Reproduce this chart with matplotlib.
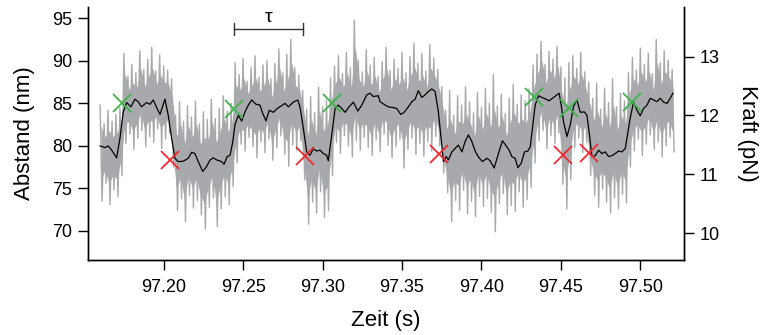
import numpy as np
import matplotlib
matplotlib.use("Agg")
import matplotlib.pyplot as plt

plt.rcParams['font.family'] = ['Liberation Sans', 'DejaVu Sans']

# Rohdaten: obere / untere Huellkurve je Abtastfenster (2.5 ms)
raw_t = np.linspace(97.160, 97.520, 145)
raw_hi = [84.8, 82.6, 84.2, 82.9, 83.7, 84.5,
          90.9, 88.2, 89.6, 88.6, 91.2, 89.0, 90.2, 91.6, 88.8, 90.7, 89.4, 88.9,
          87.9,
          83.6, 85.2, 82.9, 84.7, 83.4, 85.3, 82.6, 84.0, 83.1, 85.5, 83.2, 84.4, 85.9, 84.1, 85.0,
          89.8,
          88.4, 90.3, 87.6, 89.2, 90.6, 88.1, 89.5, 90.0, 87.9, 89.7, 91.4, 88.6, 90.8, 92.5, 89.2, 88.3,
          86.5,
          84.3, 85.8, 83.9, 86.9, 84.6, 85.4,
          88.0,
          89.4, 90.6, 88.5, 91.0, 89.2, 94.8, 90.1, 88.7, 91.3, 89.5, 90.4, 88.2, 89.9, 91.6,
          88.9, 90.2, 89.1, 91.0, 88.6, 90.5, 92.1, 89.7, 90.9, 88.8, 91.9, 90.3, 89.0,
          87.0,
          84.2, 86.5, 83.6, 85.9, 84.8, 87.0, 85.2, 83.9, 86.3, 84.5, 86.8, 85.0, 88.4, 84.7,
          86.1, 83.8, 85.6, 87.2, 84.9, 86.0, 85.3, 86.7,
          89.5,
          90.8, 92.3, 89.6, 91.1, 90.2, 91.7,
          89.3, 88.0, 89.8,
          90.6, 89.1, 91.0, 88.7,
          87.5,
          85.6, 87.4, 84.3, 86.8, 85.1, 87.9, 84.6, 86.2, 85.3,
          88.6,
          90.4, 88.9, 91.5, 89.6, 90.9, 88.5, 92.5, 89.8, 91.2, 90.1, 89.0]
raw_lo = [73.5, 75.6, 73.1, 74.8, 74.0, 76.5,
          80.3, 81.4, 79.6, 80.9, 81.8, 79.9, 81.1, 80.4, 82.0, 79.7, 80.8, 81.5,
          77.5,
          72.4, 73.8, 71.1, 74.2, 72.7, 73.6, 71.9, 70.2, 72.8, 73.9, 70.5, 72.6, 74.0, 73.1, 75.2,
          78.0,
          80.2, 79.4, 81.0, 79.9, 78.6, 80.5, 79.2, 80.8, 78.3, 79.8, 81.2, 79.0, 77.6, 80.1, 79.5, 80.6,
          76.0,
          70.8, 73.4, 72.1, 74.6, 71.6, 72.4,
          76.5,
          80.4, 79.1, 81.2, 80.0, 78.7, 80.6, 79.5, 81.0, 79.8, 78.9, 80.7, 79.3, 81.4, 80.1,
          78.6, 79.9, 80.8, 77.4, 79.6, 80.9, 79.0, 80.3, 78.8, 80.5, 79.4, 81.1, 80.0,
          76.8,
          74.5, 71.1, 73.6, 72.4, 74.8, 72.0, 73.5, 71.7, 74.1, 72.9, 73.8, 72.2, 69.9, 73.2,
          74.4, 71.9, 73.0, 72.3, 74.6, 72.8, 73.7, 75.1,
          78.0,
          80.6, 81.8, 79.7, 81.2, 80.3, 81.5,
          75.5, 72.6, 76.0,
          79.8, 80.9, 79.2, 80.4,
          76.5,
          74.2, 72.8, 74.9, 73.4, 72.1, 73.9, 72.6, 74.3, 73.3,
          77.5,
          79.4, 80.8, 78.9, 80.2, 81.3, 79.6, 80.5, 78.7, 80.0, 81.0, 79.3]

# geglaettete Kurve
smooth_t = [97.1600, 97.1630, 97.1651, 97.1673, 97.1704, 97.1725, 97.1746, 97.1767, 97.1794,
            97.1819, 97.1840, 97.1861, 97.1893, 97.1914, 97.1935, 97.1956, 97.1977, 97.2008,
            97.2029, 97.2050, 97.2071, 97.2092, 97.2123, 97.2155, 97.2176, 97.2197, 97.2218,
            97.2246, 97.2271, 97.2292, 97.2312, 97.2334, 97.2365, 97.2380, 97.2400, 97.2418,
            97.2435, 97.2449, 97.2470, 97.2491, 97.2512, 97.2533, 97.2554, 97.2581, 97.2606,
            97.2623, 97.2644, 97.2665, 97.2690, 97.2715, 97.2743, 97.2764, 97.2785, 97.2816,
            97.2844, 97.2858, 97.2879, 97.2900, 97.2921, 97.2942, 97.2963, 97.2984, 97.3005,
            97.3026, 97.3036, 97.3058, 97.3079, 97.3099, 97.3121, 97.3142, 97.3167, 97.3194,
            97.3222, 97.3247, 97.3278, 97.3299, 97.3320, 97.3351, 97.3362, 97.3394, 97.3414,
            97.3446, 97.3467, 97.3492, 97.3513, 97.3540, 97.3562, 97.3583, 97.3603, 97.3625,
            97.3645, 97.3666, 97.3688, 97.3708, 97.3729, 97.3746, 97.3761, 97.3778, 97.3792,
            97.3814, 97.3834, 97.3855, 97.3877, 97.3897, 97.3918, 97.3940, 97.3960, 97.3981,
            97.4006, 97.4034, 97.4055, 97.4080, 97.4107, 97.4132, 97.4154, 97.4174, 97.4191,
            97.4212, 97.4229, 97.4250, 97.4271, 97.4292, 97.4307, 97.4321, 97.4338, 97.4359,
            97.4380, 97.4406, 97.4426, 97.4447, 97.4475, 97.4489, 97.4502, 97.4516, 97.4538,
            97.4559, 97.4579, 97.4601, 97.4622, 97.4647, 97.4664, 97.4680, 97.4695, 97.4716,
            97.4737, 97.4758, 97.4779, 97.4800, 97.4821, 97.4842, 97.4863, 97.4884, 97.4905,
            97.4919, 97.4936, 97.4957, 97.4979, 97.4999, 97.5020, 97.5042, 97.5062, 97.5083,
            97.5105, 97.5125, 97.5146, 97.5168, 97.5188, 97.5205]
smooth_nm = [80.0, 79.8, 80.0, 79.5, 78.6, 80.9, 84.0, 85.1, 84.6,
             85.5, 85.2, 84.6, 85.1, 84.9, 85.4, 84.5, 83.7, 85.5,
             83.6, 80.9, 78.55, 78.15, 78.2, 78.55, 79.25, 79.1, 78.15,
             77.0, 77.6, 78.35, 78.6, 78.35, 78.15, 77.85, 78.75, 78.9,
             80.5, 82.5, 83.6, 82.9, 84.0, 84.8, 85.4, 84.9, 84.8,
             83.85, 82.95, 84.2, 83.95, 84.4, 84.75, 85.0, 84.6, 85.15,
             85.4, 84.6, 82.1, 79.3, 78.9, 79.65, 79.4, 79.5, 79.1,
             78.9, 78.25, 81.3, 84.4, 84.8, 84.4, 83.95, 84.6, 85.15,
             84.1, 84.8, 86.0, 86.2, 85.8, 85.9, 85.2, 84.8, 84.6,
             84.5, 84.4, 83.7, 83.95, 84.6, 85.2, 85.5, 86.5, 85.7,
             86.0, 86.4, 86.7, 86.4, 84.0, 80.9, 78.15, 78.75, 78.35,
             79.3, 79.7, 80.1, 79.3, 80.5, 81.3, 80.5, 79.4, 78.7,
             78.15, 78.55, 78.25, 77.4, 79.1, 80.6, 80.05, 79.5, 78.75,
             78.55, 77.45, 77.95, 79.3, 79.4, 79.9, 82.1, 84.8, 85.9,
             85.7, 85.5, 85.3, 85.6, 86.0, 86.2, 84.8, 82.9, 81.1,
             82.5, 84.6, 85.4, 83.95, 84.0, 83.6, 81.3, 78.75, 78.85,
             79.5, 79.1, 79.3, 78.75, 78.85, 79.1, 79.4, 79.3, 79.7,
             81.3, 83.25, 85.15, 84.2, 83.55, 84.4, 84.8, 85.6, 85.4,
             85.2, 85.6, 85.15, 85.0, 85.6, 86.2]

# erkannte Uebergaenge
rise_t = [97.1736, 97.2445, 97.3062, 97.4332, 97.4548, 97.4947]
rise_nm = [85.05, 84.3, 85.1, 85.73, 84.4, 85.2]
fall_t = [97.2040, 97.2890, 97.3736, 97.4516, 97.4674]
fall_nm = [78.35, 78.86, 79.06, 78.9, 79.2]

# Verweildauer tau
tau_start, tau_end, tau_level = 97.2445, 97.2880, 93.74

gray = '#a7a9ac'

fig = plt.figure(figsize=(7.62, 3.35), dpi=100)
ax = fig.add_axes([0.1155, 0.2239, 0.7822, 0.7552])

# Rohsignal: dichter Kern plus Zickzack zwischen oberer und unterer Huellkurve
hi = np.array(raw_hi)
lo = np.array(raw_lo)
span = hi - lo
ax.fill_between(raw_t + 0.0006, lo + 0.22 * span, hi - 0.22 * span,
                color=gray, lw=0, zorder=1)
zig_t = np.column_stack([raw_t, raw_t + 0.00125]).ravel()
zig_nm = np.column_stack([hi, lo]).ravel()
ax.plot(zig_t, zig_nm, color=gray, lw=1.0, zorder=1)

ax.plot(smooth_t, smooth_nm, color='black', lw=0.9, zorder=2)

ax.plot(rise_t, rise_nm, 'x', color='#3fb44b', ms=13, mew=1.3, zorder=3)
ax.plot(fall_t, fall_nm, 'x', color='#ee2a2e', ms=13, mew=1.3, zorder=3)

ax.plot([tau_start, tau_end], [tau_level, tau_level], color='#333333', lw=1.0)
ax.plot([tau_start, tau_start], [tau_level - 0.75, tau_level + 0.75], color='#333333', lw=1.0)
ax.plot([tau_end, tau_end], [tau_level - 0.75, tau_level + 0.75], color='#333333', lw=1.0)
ax.text((tau_start + tau_end) / 2, tau_level + 0.4, 'τ', ha='center', va='bottom', fontsize=14)

ax.set_xlim(97.1524, 97.5275)
ax.set_ylim(66.59, 96.33)
ax.set_xticks([97.20, 97.25, 97.30, 97.35, 97.40, 97.45, 97.50])
ax.set_xticklabels(['97.20', '97.25', '97.30', '97.35', '97.40', '97.45', '97.50'])
ax.set_yticks([70, 75, 80, 85, 90, 95])
ax.set_xlabel('Zeit (s)', fontsize=16, labelpad=10)
ax.set_ylabel('Abstand (nm)', fontsize=16, labelpad=12)

ax2 = ax.twinx()
ax2.set_ylim(9.541, 13.846)
ax2.set_yticks([10, 11, 12, 13])
ax2.set_ylabel('Kraft (pN)', fontsize=16, rotation=270, labelpad=27)

for a in (ax, ax2):
    a.spines['top'].set_visible(False)
    for s in a.spines.values():
        s.set_linewidth(1.0)
    a.tick_params(direction='out', length=7.5, width=1.0, labelsize=13, pad=4)
ax.tick_params(axis='x', pad=6.5)

fig.savefig('out.png', dpi=100)
